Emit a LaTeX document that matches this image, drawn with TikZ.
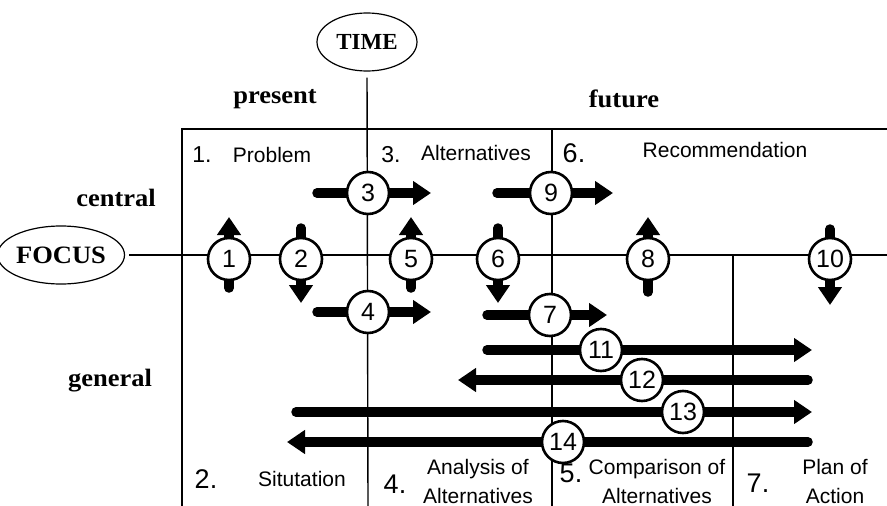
\documentclass[tikz,border=0pt]{standalone}
\usepackage{fontspec}
\setmainfont{Liberation Sans}
\newfontfamily\hdfont[FakeStretch=1.06]{Liberation Serif}
\newfontfamily\hdplain{Liberation Serif}
\usetikzlibrary{arrows.meta,shapes.geometric}
\begin{document}
\begin{tikzpicture}[x=1pt,y=-1pt,
  thinline/.style={line width=1.4pt},
  bigarrow/.style={line width=9.5pt, line cap=round, -{Triangle[length=18pt,width=23pt]}},
  num/.style={circle, draw, line width=2.6pt, fill=white, minimum size=42pt, inner sep=0pt, font=\fontsize{25}{25}\selectfont},
  hd/.style={font=\hdfont\bfseries\fontsize{25}{25}\selectfont},
  lbl/.style={font=\fontsize{21}{29}\selectfont, align=center},
  bignum/.style={font=\fontsize{27}{27}\selectfont},
  smnum/.style={font=\fontsize{23}{23}\selectfont},
  oval/.style={ellipse, draw, line width=1.2pt, inner sep=0pt},
]
\useasboundingbox (0,0) rectangle (887,506);

% frame and axes
\coordinate (tr) at (887,129);
\coordinate (tl) at (182,129);
\coordinate (bl) at (182,506);
\coordinate (tbot) at (368,506);
\coordinate (fend) at (887,255);
\coordinate (m1) at (552,129);
\coordinate (m2) at (552,506);
\coordinate (p1) at (733,255);
\coordinate (p2) at (733,506);

\node[oval, minimum width=100pt, minimum height=58pt, font=\hdplain\bfseries\fontsize{23}{23}\selectfont] (time) at (367,42) {TIME};
\node[oval, minimum width=104pt, minimum height=58pt, hd] (focus) at (61,255) {FOCUS};

\draw[thinline] (tr) -- (tl) -- (bl);
\draw[thinline, shorten <=6pt] (time.south) -- (tbot);
\draw[thinline, shorten <=4pt] (focus.east) -- (fend);
\draw[thinline] (m1) -- (m2);
\draw[thinline] (p1) -- (p2);

% headings
\node[hd] (present) at (275,99) {present};
\node[hd] (future) at (624,99) {future};
\node[hd] (central) at (116,198) {central};
\node[hd] (general) at (110,381) {general};

% top labels
\node[smnum] (n1) at (202,155) {1.};
\node[lbl] (l1) at (272,155) {Problem};
\node[smnum] (n3) at (391,155) {3.};
\node[lbl] (l3) at (476,153) {Alternatives};
\node[bignum] (n6) at (574,153) {6.};
\node[lbl] (l6) at (725,150) {Recommendation};

% bottom labels
\node[bignum] (n2) at (206,479) {2.};
\node[lbl] (l2) at (302,479) {Situtation};
\node[bignum] (n4) at (395,484) {4.};
\node[lbl] (l4) at (478,481) {Analysis of\\Alternatives};
\node[bignum] (n5) at (571,473) {5.};
\node[lbl] (l5) at (657,481) {Comparison of\\Alternatives};
\node[bignum] (n7) at (758,483) {7.};
\node[lbl] (l7) at (835,481) {Plan of\\Action};

% horizontal arrows
\coordinate (a3) at (317,193);  \coordinate (b3) at (431,193);
\coordinate (a9) at (497,193);  \coordinate (b9) at (613,193);
\coordinate (a4) at (317,312);  \coordinate (b4) at (431,312);
\coordinate (a7) at (487,315);  \coordinate (b7) at (607,315);
\coordinate (a11) at (487,350); \coordinate (b11) at (812,350);
\coordinate (a12) at (808,380); \coordinate (b12) at (458,380);
\coordinate (a13) at (296,412); \coordinate (b13) at (812,412);
\coordinate (a14) at (808,442); \coordinate (b14) at (287,442);
\foreach \k in {3,9,4,7,11,12,13,14} {\draw[bigarrow] (a\k) -- (b\k);}

% vertical arrows
\coordinate (a1) at (229,288);  \coordinate (b1) at (229,217);
\coordinate (a2) at (301,228);  \coordinate (b2) at (301,303);
\coordinate (a5) at (411,288);  \coordinate (b5) at (411,217);
\coordinate (a6) at (498,228);  \coordinate (b6) at (498,303);
\coordinate (a8) at (648,292);  \coordinate (b8) at (648,217);
\coordinate (a10) at (830,229); \coordinate (b10) at (830,305);
\foreach \k in {1,2,5,6,8,10} {\draw[bigarrow] (a\k) -- (b\k);}

% numbered circles
\node[num] (c1) at (229,259) {1};
\node[num] (c2) at (301,259) {2};
\node[num] (c5) at (411,259) {5};
\node[num] (c6) at (498,259) {6};
\node[num] (c8) at (648,259) {8};
\node[num] (c10) at (830,259) {10};
\node[num] (c3) at (368,193) {3};
\node[num] (c9) at (551,193) {9};
\node[num] (c4) at (368,312) {4};
\node[num] (c7) at (550,315) {7};
\node[num] (c11) at (601,350) {11};
\node[num] (c12) at (642,380) {12};
\node[num] (c13) at (683,412) {13};
\node[num] (c14) at (563,442) {14};
\end{tikzpicture}
\end{document}
